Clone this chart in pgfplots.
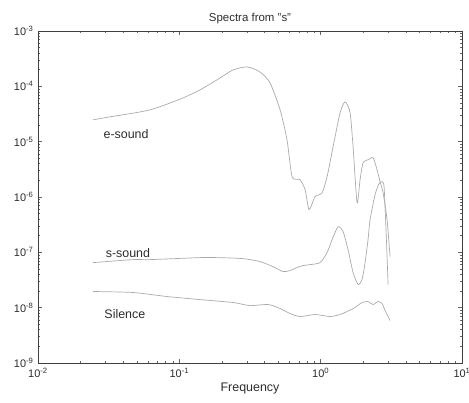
\documentclass[border=0pt]{standalone}
\usepackage{fontspec}
\setmainfont{Liberation Sans}
\usepackage{pgfplots}
\pgfplotsset{compat=1.18}
\definecolor{curve}{RGB}{170,170,170}
\definecolor{txt}{RGB}{45,45,45}
\begin{document}
\begin{tikzpicture}
\useasboundingbox (-38bp,-40bp) rectangle (431bp,363bp);
\begin{axis}[
  scale only axis,
  width=424bp, height=332bp,
  xmode=log, ymode=log,
  xmin=1e-2, xmax=10, ymin=1e-9, ymax=1e-3,
  xtick={1e-2,1e-1,1,10},
  xticklabels={10\textsuperscript{-2},10\textsuperscript{-1},10\textsuperscript{0},10\textsuperscript{1}},
  ytick={1e-9,1e-8,1e-7,1e-6,1e-5,1e-4,1e-3},
  yticklabels={10\textsuperscript{-9},10\textsuperscript{-8},10\textsuperscript{-7},10\textsuperscript{-6},10\textsuperscript{-5},10\textsuperscript{-4},10\textsuperscript{-3}},
  tick label style={font=\fontsize{11}{13}\selectfont, text=txt},
  xticklabel style={yshift=-2bp},
  yticklabel style={xshift=-1bp},
  title={Spectra from "s"},
  title style={font=\fontsize{11.5}{13}\selectfont, text=txt, yshift=-2bp},
  xlabel={Frequency},
  xlabel style={font=\fontsize{12.5}{14}\selectfont, text=txt, yshift=2bp},
  axis line style={black!75, line width=0.6pt},
  tick style={black!60, line width=0.4pt},
  major tick length=4bp, minor tick length=2.5bp,
  tick align=inside,
  clip=false,
]
% e-sound
\addplot[curve, line width=0.7pt, smooth, tension=0.4, no markers] coordinates {
(0.0245,2.48e-5) (0.0323,2.81e-5) (0.0486,3.32e-5) (0.0620,3.76e-5) (0.0792,4.62e-5)
(0.1062,6.18e-5) (0.1401,8.63e-5) (0.1848,1.31e-4) (0.2399,1.98e-4) (0.3013,2.24e-4)
(0.3724,1.82e-4) (0.4385,1.15e-4) (0.5164,3.76e-5) (0.578,1.08e-5) (0.628,2.32e-6)
(0.714,2.05e-6) (0.776,1.36e-6) (0.828,5.90e-7) (0.912,1.01e-6) (1.023,1.19e-6)
(1.110,2.32e-6) (1.224,8.07e-6) (1.372,3.32e-5) (1.489,5.24e-5) (1.615,3.32e-5)
(1.696,8.07e-6) (1.810,7.89e-7) (1.900,2.05e-6) (1.995,4.16e-6) (2.164,4.71e-6)
(2.348,5.12e-6) (2.507,3.10e-6) (2.633,1.89e-6) (2.765,1.19e-6) (2.951,3.89e-7)
(3.097,8.37e-8)
};
% s-sound
\addplot[curve, line width=0.7pt, smooth, tension=0.4, no markers] coordinates {
(0.0245,6.52e-8) (0.0470,7.39e-8) (0.0620,7.39e-8) (0.1401,8.03e-8) (0.1848,8.03e-8)
(0.2825,7.70e-8) (0.3724,6.80e-8) (0.460,5.52e-8) (0.542,4.49e-8) (0.606,4.68e-8)
(0.680,5.30e-8) (0.750,5.76e-8) (0.841,6.00e-8) (0.991,6.52e-8) (1.110,9.89e-8)
(1.205,1.70e-7) (1.328,2.91e-7) (1.441,2.37e-7) (1.563,1.12e-7) (1.696,4.31e-8)
(1.840,2.62e-8) (1.963,3.22e-8) (2.062,6.52e-8) (2.164,1.70e-7) (2.237,3.89e-7)
(2.426,1.10e-6) (2.589,1.74e-6) (2.719,1.89e-6) (2.81,1.53e-6) (2.90,2.57e-7)
(3.0,2.62e-8)
};
% Silence
\addplot[curve, line width=0.7pt, smooth, tension=0.4, no markers] coordinates {
(0.0245,1.96e-8) (0.0470,1.88e-8) (0.0818,1.59e-8) (0.1401,1.40e-8) (0.2399,1.24e-8)
(0.316,1.09e-8) (0.425,1.14e-8) (0.516,9.66e-9) (0.606,7.84e-9) (0.714,6.92e-9)
(0.912,7.52e-9) (1.166,6.92e-9) (1.372,7.52e-9) (1.538,8.51e-9) (1.751,1.01e-8)
(1.963,1.24e-8) (2.164,1.29e-8) (2.348,1.14e-8) (2.548,1.29e-8) (2.719,1.19e-8)
(2.857,8.88e-9) (3.097,5.86e-9)
};
\node[font=\fontsize{12.5}{14}\selectfont, text=txt] at (axis cs:0.0420,1.39e-5) {e-sound};
\node[font=\fontsize{12.5}{14}\selectfont, text=txt] at (axis cs:0.0433,9.89e-8) {s-sound};
\node[font=\fontsize{12.5}{14}\selectfont, text=txt] at (axis cs:0.0412,7.52e-9) {Silence};
\end{axis}
\end{tikzpicture}
\end{document}
